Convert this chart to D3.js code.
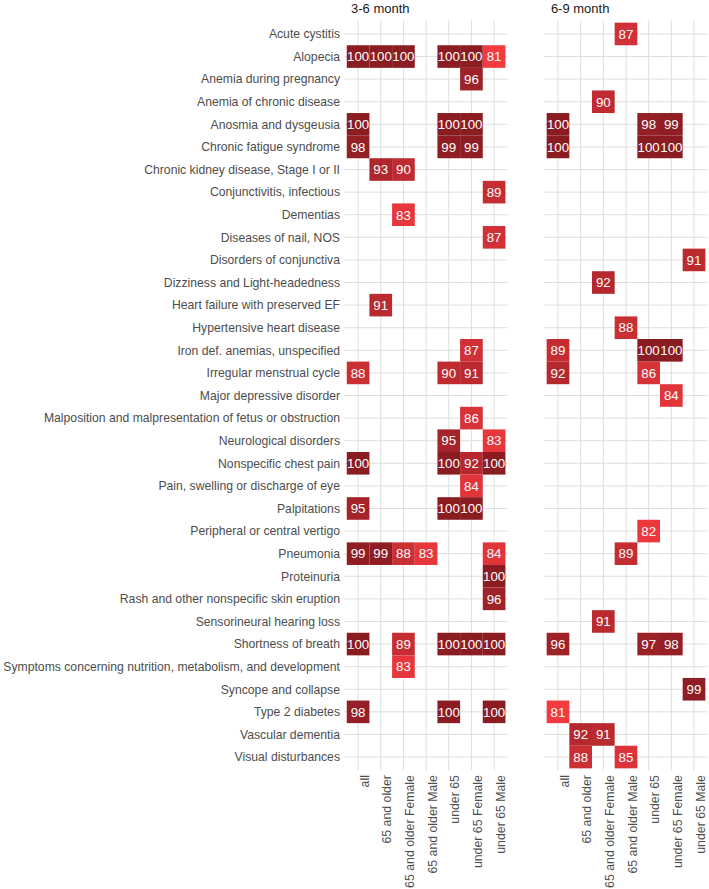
<!DOCTYPE html>
<html>
<head>
<meta charset="utf-8">
<script src="https://cdn.jsdelivr.net/npm/d3@7"></script>
<style>
  html, body { margin: 0; padding: 0; background: #fff; }
  svg { display: block; font-family: "Liberation Sans", Arial, sans-serif; }
</style>
</head>
<body>
<svg id="chart" width="709" height="889"></svg>
<script>
// ---- Data ----
const conditions = [
  "Acute cystitis", "Alopecia", "Anemia during pregnancy", "Anemia of chronic disease",
  "Anosmia and dysgeusia", "Chronic fatigue syndrome", "Chronic kidney disease, Stage I or II",
  "Conjunctivitis, infectious", "Dementias", "Diseases of nail, NOS", "Disorders of conjunctiva",
  "Dizziness and Light-headedness", "Heart failure with preserved EF", "Hypertensive heart disease",
  "Iron def. anemias, unspecified", "Irregular menstrual cycle", "Major depressive disorder",
  "Malposition and malpresentation of fetus or obstruction", "Neurological disorders",
  "Nonspecific chest pain", "Pain, swelling or discharge of eye", "Palpitations",
  "Peripheral or central vertigo", "Pneumonia", "Proteinuria",
  "Rash and other nonspecific skin eruption", "Sensorineural hearing loss", "Shortness of breath",
  "Symptoms concerning nutrition, metabolism, and development", "Syncope and collapse",
  "Type 2 diabetes", "Vascular dementia", "Visual disturbances"
];
const groups = ["all", "65 and older", "65 and older Female", "65 and older Male",
  "under 65", "under 65 Female", "under 65 Male"];
const periods = ["3-6 month", "6-9 month"];

// [condition, group, value]
const cells_3_6 = [
  ["Alopecia", "all", 100], ["Alopecia", "65 and older", 100], ["Alopecia", "65 and older Female", 100],
  ["Alopecia", "under 65", 100], ["Alopecia", "under 65 Female", 100], ["Alopecia", "under 65 Male", 81],
  ["Anemia during pregnancy", "under 65 Female", 96],
  ["Anosmia and dysgeusia", "all", 100], ["Anosmia and dysgeusia", "under 65", 100], ["Anosmia and dysgeusia", "under 65 Female", 100],
  ["Chronic fatigue syndrome", "all", 98], ["Chronic fatigue syndrome", "under 65", 99], ["Chronic fatigue syndrome", "under 65 Female", 99],
  ["Chronic kidney disease, Stage I or II", "65 and older", 93], ["Chronic kidney disease, Stage I or II", "65 and older Female", 90],
  ["Conjunctivitis, infectious", "under 65 Male", 89],
  ["Dementias", "65 and older Female", 83],
  ["Diseases of nail, NOS", "under 65 Male", 87],
  ["Heart failure with preserved EF", "65 and older", 91],
  ["Iron def. anemias, unspecified", "under 65 Female", 87],
  ["Irregular menstrual cycle", "all", 88], ["Irregular menstrual cycle", "under 65", 90], ["Irregular menstrual cycle", "under 65 Female", 91],
  ["Malposition and malpresentation of fetus or obstruction", "under 65 Female", 86],
  ["Neurological disorders", "under 65", 95], ["Neurological disorders", "under 65 Male", 83],
  ["Nonspecific chest pain", "all", 100], ["Nonspecific chest pain", "under 65", 100], ["Nonspecific chest pain", "under 65 Female", 92], ["Nonspecific chest pain", "under 65 Male", 100],
  ["Pain, swelling or discharge of eye", "under 65 Female", 84],
  ["Palpitations", "all", 95], ["Palpitations", "under 65", 100], ["Palpitations", "under 65 Female", 100],
  ["Pneumonia", "all", 99], ["Pneumonia", "65 and older", 99], ["Pneumonia", "65 and older Female", 88], ["Pneumonia", "65 and older Male", 83], ["Pneumonia", "under 65 Male", 84],
  ["Proteinuria", "under 65 Male", 100],
  ["Rash and other nonspecific skin eruption", "under 65 Male", 96],
  ["Shortness of breath", "all", 100], ["Shortness of breath", "65 and older Female", 89], ["Shortness of breath", "under 65", 100], ["Shortness of breath", "under 65 Female", 100], ["Shortness of breath", "under 65 Male", 100],
  ["Symptoms concerning nutrition, metabolism, and development", "65 and older Female", 83],
  ["Type 2 diabetes", "all", 98], ["Type 2 diabetes", "under 65", 100], ["Type 2 diabetes", "under 65 Male", 100]
];
const cells_6_9 = [
  ["Acute cystitis", "65 and older Male", 87],
  ["Anemia of chronic disease", "65 and older Female", 90],
  ["Anosmia and dysgeusia", "all", 100], ["Anosmia and dysgeusia", "under 65", 98], ["Anosmia and dysgeusia", "under 65 Female", 99],
  ["Chronic fatigue syndrome", "all", 100], ["Chronic fatigue syndrome", "under 65", 100], ["Chronic fatigue syndrome", "under 65 Female", 100],
  ["Disorders of conjunctiva", "under 65 Male", 91],
  ["Dizziness and Light-headedness", "65 and older Female", 92],
  ["Hypertensive heart disease", "65 and older Male", 88],
  ["Iron def. anemias, unspecified", "all", 89], ["Iron def. anemias, unspecified", "under 65", 100], ["Iron def. anemias, unspecified", "under 65 Female", 100],
  ["Irregular menstrual cycle", "all", 92], ["Irregular menstrual cycle", "under 65", 86],
  ["Major depressive disorder", "under 65 Female", 84],
  ["Peripheral or central vertigo", "under 65", 82],
  ["Pneumonia", "65 and older Male", 89],
  ["Sensorineural hearing loss", "65 and older Female", 91],
  ["Shortness of breath", "all", 96], ["Shortness of breath", "under 65", 97], ["Shortness of breath", "under 65 Female", 98],
  ["Syncope and collapse", "under 65 Male", 99],
  ["Type 2 diabetes", "all", 81],
  ["Vascular dementia", "65 and older", 92], ["Vascular dementia", "65 and older Female", 91],
  ["Visual disturbances", "65 and older", 88], ["Visual disturbances", "65 and older Male", 85]
];
const cellsByPeriod = [cells_3_6, cells_6_9];

// ---- Layout ----
const svg = d3.select("#chart");
const panelLefts = [344.5, 544.4];
const panelWidth = 163.2;
const panelTop = 20.4, panelBottom = 770.6;

// emulate ggplot discrete expansion of 0.6 units on each side
const nRows = conditions.length;
const rowStep = (panelBottom - panelTop) / (nRows - 1 + 1.2);
const y = d3.scaleBand().domain(conditions)
  .range([panelTop + 0.6 * rowStep - rowStep / 2, panelBottom - 0.6 * rowStep + rowStep / 2]);

const allVals = cells_3_6.concat(cells_6_9).map(d => d[2]);
const color = d3.scaleLinear()
  .domain([d3.min(allVals), d3.max(allVals)])
  .range(["#F23A3F", "#8A1C22"])
  .interpolate(d3.interpolateLab);

periods.forEach((p, i) => {
  const left = panelLefts[i];
  const colStep = panelWidth / (groups.length - 1 + 1.2);
  const x = d3.scaleBand().domain(groups)
    .range([left + 0.6 * colStep - colStep / 2, left + panelWidth - 0.6 * colStep + colStep / 2]);
  const g = svg.append("g");

  // grid
  g.selectAll("line.v").data(groups).enter().append("line")
    .attr("x1", d => x(d) + x.bandwidth() / 2).attr("x2", d => x(d) + x.bandwidth() / 2)
    .attr("y1", panelTop).attr("y2", panelBottom)
    .attr("stroke", "#DEDEDE").attr("stroke-width", 1);
  g.selectAll("line.h").data(conditions).enter().append("line")
    .attr("x1", left).attr("x2", left + panelWidth)
    .attr("y1", d => y(d) + y.bandwidth() / 2).attr("y2", d => y(d) + y.bandwidth() / 2)
    .attr("stroke", "#DEDEDE").attr("stroke-width", 1);

  // tiles
  const cells = cellsByPeriod[i];
  g.selectAll("rect.tile").data(cells).enter().append("rect")
    .attr("x", d => x(d[1])).attr("y", d => y(d[0]))
    .attr("width", x.bandwidth()).attr("height", y.bandwidth())
    .attr("fill", d => color(d[2]));
  g.selectAll("text.val").data(cells).enter().append("text")
    .attr("x", d => x(d[1]) + x.bandwidth() / 2)
    .attr("y", d => y(d[0]) + y.bandwidth() / 2)
    .attr("dy", "0.36em")
    .attr("text-anchor", "middle")
    .attr("fill", "#fff")
    .attr("font-size", 13.3)
    .text(d => d[2]);

  // strip title
  svg.append("text")
    .attr("x", left + 6.5).attr("y", 13)
    .attr("font-size", 13).attr("fill", "#1A1A1A")
    .text(p);

  // x labels
  g.selectAll("text.xl").data(groups).enter().append("text")
    .attr("transform", d => `translate(${x(d) + x.bandwidth() / 2},${panelBottom + 4.5}) rotate(-90)`)
    .attr("y", 10.5)
    .attr("text-anchor", "end")
    .attr("font-size", 12.3)
    .attr("fill", "#4D4D4D")
    .text(d => d);
});

// y labels
svg.append("g").selectAll("text").data(conditions).enter().append("text")
  .attr("x", 340).attr("y", d => y(d) + y.bandwidth() / 2)
  .attr("dy", "0.35em")
  .attr("text-anchor", "end")
  .attr("font-size", 12.2)
  .attr("fill", "#4D4D4D")
  .text(d => d);
</script>
</body>
</html>
